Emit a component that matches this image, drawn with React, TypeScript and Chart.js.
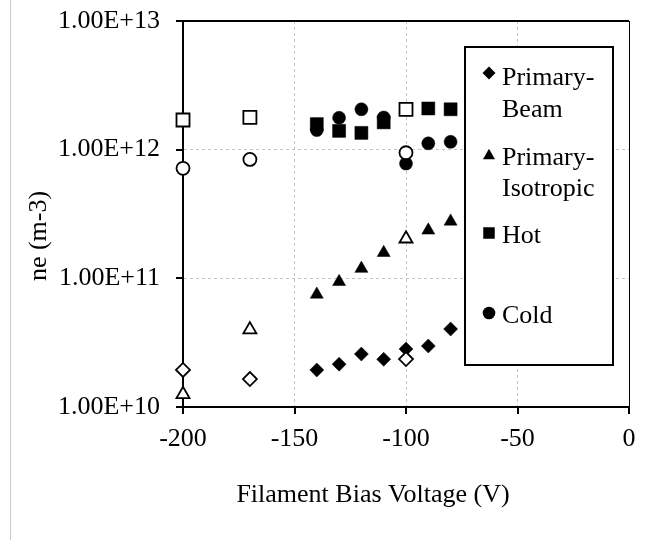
import React, { useEffect, useRef } from 'react';
import { Chart, registerables } from 'chart.js';

Chart.register(...registerables);

const FONT = '"Liberation Serif", "Times New Roman", serif';

// Filament bias voltage (V) for each series
const beamBias = [-140, -130, -120, -110, -100, -90, -80];
const isoBias = [-140, -130, -120, -110, -90, -80];
const hotBias = [-140, -130, -120, -110, -90, -80];
const coldBias = [-140, -130, -120, -110, -100, -90, -80];
const openBias = [-200, -170, -100];

// Electron density ne (m-3)
const primaryBeam = [1.94e10, 2.15e10, 2.58e10, 2.35e10, 2.82e10, 2.98e10, 4.04e10];
const primaryIsotropic = [7.5e10, 9.4e10, 1.19e11, 1.58e11, 2.36e11, 2.77e11];
const hot = [1.58e12, 1.4e12, 1.35e12, 1.63e12, 2.09e12, 2.06e12];
const cold = [1.42e12, 1.77e12, 2.06e12, 1.78e12, 7.8e11, 1.12e12, 1.15e12];

const openBeam = [1.94e10, 1.65e10, 2.36e10];
const openIsotropic = [1.255e10, 3.99e10, 2.03e11];
const openHot = [1.7e12, 1.78e12, 2.06e12];
const openCold = [7.16e11, 8.4e11, 9.46e11];

const xTickValues = [-200, -150, -100, -50, 0];
const yTickValues = [1e10, 1e11, 1e12, 1e13];

const legendItems = [
  { style: 'diamond', lines: ['Primary-', 'Beam'] },
  { style: 'triangle', lines: ['Primary-', 'Isotropic'] },
  { style: 'square', lines: ['Hot'] },
  { style: 'circle', lines: ['Cold'] },
];

const xTitle = 'Filament Bias Voltage (V)';
const yTitle = 'ne (m-3)';

const pts = (xs: number[], ys: number[]) => xs.map((x, i) => ({ x, y: ys[i] }));

function openSet(label: string, xs: number[], ys: number[], style: string, r: number) {
  return {
    label,
    data: pts(xs, ys),
    pointStyle: style,
    pointRadius: r,
    pointBackgroundColor: '#ffffff',
    pointBorderColor: '#000000',
    pointBorderWidth: 1.8,
    backgroundColor: '#ffffff',
    borderColor: '#000000',
    showLine: false,
    clip: false,
  };
}
function filledSet(label: string, xs: number[], ys: number[], style: string, r: number) {
  return {
    label,
    data: pts(xs, ys),
    pointStyle: style,
    pointRadius: r,
    pointBackgroundColor: '#000000',
    pointBorderColor: '#000000',
    pointBorderWidth: 0.5,
    backgroundColor: '#000000',
    borderColor: '#000000',
    showLine: false,
    clip: false,
  };
}

function drawMarker(ctx: CanvasRenderingContext2D, style: string, x: number, y: number) {
  ctx.beginPath();
  if (style === 'diamond') {
    const r = 6.5;
    ctx.moveTo(x, y - r);
    ctx.lineTo(x + r, y);
    ctx.lineTo(x, y + r);
    ctx.lineTo(x - r, y);
    ctx.closePath();
  } else if (style === 'triangle') {
    const h = 10.5, w = 12;
    ctx.moveTo(x, y - h / 2);
    ctx.lineTo(x + w / 2, y + h / 2);
    ctx.lineTo(x - w / 2, y + h / 2);
    ctx.closePath();
  } else if (style === 'square') {
    const s = 11.5;
    ctx.rect(x - s / 2, y - s / 2, s, s);
  } else {
    ctx.arc(x, y, 6.3, 0, Math.PI * 2);
  }
  ctx.fill();
}

const extras = {
  id: 'extras',
  beforeDraw(chart: any) {
    const ctx = chart.ctx as CanvasRenderingContext2D;
    ctx.save();
    ctx.fillStyle = '#ffffff';
    ctx.fillRect(0, 0, chart.width, chart.height);
    ctx.strokeStyle = '#c8c8c8';
    ctx.lineWidth = 1;
    ctx.beginPath();
    ctx.moveTo(10.5, 0);
    ctx.lineTo(10.5, chart.height);
    ctx.stroke();
    ctx.restore();
  },
  beforeDatasetsDraw(chart: any) {
    const ctx = chart.ctx as CanvasRenderingContext2D;
    const ca = chart.chartArea;
    const xs = chart.scales.x;
    const ys = chart.scales.y;
    ctx.save();
    ctx.strokeStyle = '#000000';
    // top border
    ctx.lineWidth = 2;
    ctx.beginPath();
    ctx.moveTo(ca.left - 7, ca.top);
    ctx.lineTo(ca.right, ca.top);
    ctx.stroke();
    // right border
    ctx.lineWidth = 1;
    ctx.beginPath();
    ctx.moveTo(ca.right + 0.5, ca.top);
    ctx.lineTo(ca.right + 0.5, ca.bottom);
    ctx.stroke();
    // ticks
    ctx.lineWidth = 2;
    ctx.beginPath();
    yTickValues.forEach((v) => {
      const py = Math.round(ys.getPixelForValue(v));
      ctx.moveTo(ca.left - 7, py);
      ctx.lineTo(ca.left, py);
    });
    xTickValues.forEach((v) => {
      const px = Math.round(xs.getPixelForValue(v));
      ctx.moveTo(px, ca.bottom);
      ctx.lineTo(px, ca.bottom + 7);
    });
    ctx.stroke();
    ctx.restore();
  },
  afterDraw(chart: any) {
    const ctx = chart.ctx as CanvasRenderingContext2D;
    ctx.save();
    // titles
    ctx.fillStyle = '#000000';
    ctx.font = `26px ${FONT}`;
    ctx.textAlign = 'center';
    ctx.textBaseline = 'middle';
    ctx.fillText(xTitle, 373, 495);
    ctx.save();
    ctx.translate(39, 236);
    ctx.rotate(-Math.PI / 2);
    ctx.fillText(yTitle, 0, 0);
    ctx.restore();

    // legend
    const lx = 465, ly = 47, lw = 148, lh = 318;
    ctx.fillStyle = '#ffffff';
    ctx.fillRect(lx, ly, lw, lh);
    ctx.strokeStyle = '#000000';
    ctx.lineWidth = 2;
    ctx.strokeRect(lx, ly, lw, lh);
    const markerY = [73, 154, 233, 313];
    const baselines = [[85, 117], [165, 196], [243], [323]];
    ctx.fillStyle = '#000000';
    ctx.textAlign = 'left';
    ctx.textBaseline = 'alphabetic';
    legendItems.forEach((item, i) => {
      drawMarker(ctx, item.style, 489, markerY[i]);
      item.lines.forEach((t, j) => ctx.fillText(t, 502, baselines[i][j]));
    });
    ctx.restore();
  },
};

export default function App() {
  const ref = useRef<HTMLCanvasElement | null>(null);
  useEffect(() => {
    if (!ref.current) return;
    const gridColor = '#c4c4c4';
    const chart = new Chart(ref.current, {
      type: 'scatter',
      data: {
        datasets: [
          openSet('Primary-Beam (open)', openBias, openBeam, 'rectRot', 7),
          openSet('Primary-Isotropic (open)', openBias, openIsotropic, 'triangle', 7.5),
          openSet('Hot (open)', openBias, openHot, 'rect', 9.2),
          openSet('Cold (open)', openBias, openCold, 'circle', 6.5),
          filledSet('Primary-Beam', beamBias, primaryBeam, 'rectRot', 7),
          filledSet('Primary-Isotropic', isoBias, primaryIsotropic, 'triangle', 7.5),
          filledSet('Hot', hotBias, hot, 'rect', 9.2),
          filledSet('Cold', coldBias, cold, 'circle', 6.5),
        ] as any,
      },
      options: {
        animation: false,
        responsive: false,
        events: [],
        layout: { padding: { top: 21, right: 19, left: 0, bottom: 0 } },
        plugins: {
          legend: { display: false },
          tooltip: { enabled: false },
          title: { display: false },
        },
        scales: {
          x: {
            type: 'linear',
            min: -200,
            max: 0,
            afterBuildTicks: (s: any) => {
              s.ticks = xTickValues.map((v) => ({ value: v }));
            },
            afterFit: (s: any) => {
              s.height = 133;
              s.paddingLeft = 0;
              s.paddingRight = 0;
              s.paddingTop = 0;
              s.paddingBottom = 0;
            },
            ticks: {
              callback: (v: any) => String(v),
              font: { family: FONT, size: 26 },
              color: '#000000',
              padding: 10,
              maxRotation: 0,
              autoSkip: false,
            },
            grid: {
              color: (c: any) =>
                c.tick && c.tick.value > -200 && c.tick.value < 0 ? gridColor : 'rgba(0,0,0,0)',
              lineWidth: 1,
              tickLength: 7,
              tickColor: 'rgba(0,0,0,0)',
            },
            border: { color: '#000000', width: 2, dash: [3, 3] },
          },
          y: {
            type: 'logarithmic',
            min: 1e10,
            max: 1e13,
            afterBuildTicks: (s: any) => {
              s.ticks = yTickValues.map((v) => ({ value: v, major: true }));
            },
            afterFit: (s: any) => {
              s.width = 183;
              s.paddingLeft = 0;
              s.paddingRight = 0;
              s.paddingTop = 0;
              s.paddingBottom = 0;
            },
            ticks: {
              callback: (v: any) => Number(v).toExponential(2).toUpperCase(),
              font: { family: FONT, size: 26 },
              color: '#000000',
              padding: 16,
              autoSkip: false,
            },
            grid: {
              color: (c: any) =>
                c.tick && c.tick.value > 1e10 && c.tick.value < 1e13 ? gridColor : 'rgba(0,0,0,0)',
              lineWidth: 1,
              tickLength: 7,
              tickColor: 'rgba(0,0,0,0)',
            },
            border: { color: '#000000', width: 2, dash: [3, 3] },
          },
        },
      } as any,
      plugins: [extras],
    });
    return () => chart.destroy();
  }, []);
  return (
    <div style={{ position: 'absolute', left: 0, top: 0, width: 648, height: 540, background: '#ffffff' }}>
      <canvas ref={ref} width={648} height={540} style={{ display: 'block', width: 648, height: 540 }} />
    </div>
  );
}
